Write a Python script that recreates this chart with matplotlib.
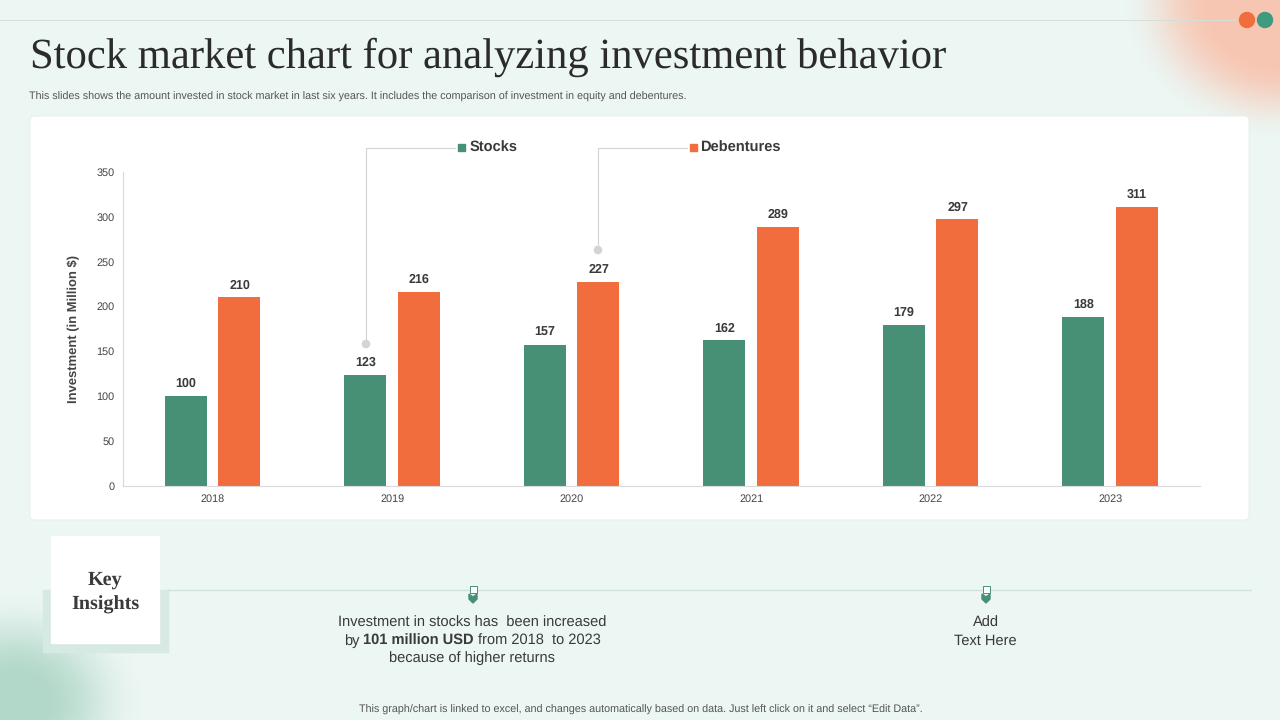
import numpy as np
import matplotlib.pyplot as plt
from matplotlib.patches import Rectangle, FancyBboxPatch, Circle, Polygon

plt.rcParams['font.family'] = ['Liberation Sans', 'DejaVu Sans']
plt.rcParams['text.hinting'] = 'none'

YEARS = ["2018", "2019", "2020", "2021", "2022", "2023"]
STOCKS = [100, 123, 157, 162, 179, 188]
DEBENTURES = [210, 216, 227, 289, 297, 311]
Y_TICKS = [0, 50, 100, 150, 200, 250, 300, 350]

GREEN = "#478f75"
ORANGE = "#f26d3d"
BG = "#ecf6f3"
DARK = "#3a3a3a"


def blob(cx, cy, rx, ry, rgb, edge=0.45):
    """Return an RGBA image of a soft round patch over the whole slide."""
    yy, xx = np.mgrid[0:720, 0:1280]
    d = np.sqrt(((xx - cx) / rx) ** 2 + ((yy - cy) / ry) ** 2)
    t = np.clip((1.0 - d) / edge, 0, 1)
    img = np.zeros((720, 1280, 4))
    img[..., :3] = rgb
    img[..., 3] = t * t * (3 - 2 * t)  # smooth edge
    return img


def draw_background():
    """Slide background, the cards and all the text around the chart."""
    ax = plt.axes([0, 0, 1, 1])
    plt.xlim(0, 1280)
    plt.ylim(720, 0)
    plt.axis("off")
    ax.add_patch(Rectangle((0, 0), 1280, 720, color=BG, zorder=0))

    # soft corners
    plt.imshow(blob(1285, 0, 165, 140, (0.97, 0.78, 0.70), edge=0.55), extent=(0, 1280, 720, 0), zorder=1, aspect="auto")
    plt.imshow(blob(15, 700, 130, 110, (0.70, 0.85, 0.79), edge=0.8), extent=(0, 1280, 720, 0), zorder=1, aspect="auto")
    plt.xlim(0, 1280)
    plt.ylim(720, 0)

    plt.plot([0, 1235], [20, 20], color="#d5dedb", lw=0.7, zorder=2)
    ax.add_patch(Circle((1247, 20), 7.5, color=ORANGE, zorder=3))
    ax.add_patch(Circle((1265, 20), 7.5, color="#3f9a80", zorder=3))

    plt.text(30, 57, "Stock market chart for analyzing investment behavior", family="Liberation Serif",
             fontsize=30.7, color="#2b2b2b", va="center", ha="left", zorder=4)
    plt.text(29, 96.5, "This slides shows the amount invested in stock market in last six years. It includes the comparison of investment in equity and debentures.",
             fontsize=7.74, color="#555555", va="center", ha="left", zorder=4)

    # chart card
    ax.add_patch(FancyBboxPatch((34, 120), 1211, 396, boxstyle="round,pad=4,rounding_size=5",
                                facecolor="white", edgecolor="#e6eeeb", lw=0.6, zorder=2))

    # key insights box
    ax.add_patch(Rectangle((43, 590), 125, 62, color="#d6e9e3", zorder=2))
    ax.add_patch(Rectangle((51, 536), 108, 107, color="white", zorder=3))
    plt.text(105, 580, "Key", family="Liberation Serif", fontweight="bold", fontsize=14.5, color=DARK,
             ha="center", va="center", zorder=4)
    plt.text(105, 605, "Insights", family="Liberation Serif", fontweight="bold", fontsize=14.5, color=DARK,
             ha="center", va="center", zorder=4)
    plt.plot([168, 1251], [590, 590], color="#cfe3dc", lw=1, zorder=2)

    # two little pins on the line
    for x in [473, 986]:
        ax.add_patch(Rectangle((x - 3.5, 586), 7, 7, facecolor="white", edgecolor=GREEN, lw=0.7, zorder=4))
        ax.add_patch(Polygon([(x - 4, 594), (x, 597), (x + 4, 594), (x + 4, 599), (x, 603), (x - 4, 599)],
                             color=GREEN, zorder=4))

    plt.text(472.5, 623, "Investment in stocks has  been increased", fontsize=10.5, color=DARK, ha="center", va="center", zorder=4)
    plt.text(344, 641, "by", fontsize=10.5, color=DARK, ha="left", va="center", zorder=4)
    plt.text(363, 641, "101 million USD", fontsize=10.5, fontweight="bold", color=DARK, ha="left", va="center", zorder=4)
    plt.text(478, 641, "from 2018  to 2023", fontsize=10.5, color=DARK, ha="left", va="center", zorder=4)
    plt.text(472, 658, "because of higher returns", fontsize=10.5, color=DARK, ha="center", va="center", zorder=4)
    plt.text(985.5, 623, "Add", fontsize=10.5, color=DARK, ha="center", va="center", zorder=4)
    plt.text(985.5, 641, "Text Here", fontsize=10.5, color=DARK, ha="center", va="center", zorder=4)
    plt.text(640.5, 710, "This graph/chart is linked to excel, and changes automatically based on data. Just left click on it and select \u201cEdit Data\u201d.",
             fontsize=7.74, color="#555555", ha="center", va="center", zorder=4)


def draw_chart():
    """Grouped bars with the value labels, axis and legend."""
    ax = plt.axes([123 / 1280, 1 - 485.5 / 720, (1200 - 123) / 1280, (485.5 - 172) / 720])
    ax.patch.set_alpha(0)
    x = np.arange(len(YEARS))
    plt.bar(x - 0.15, STOCKS, width=0.234, color=GREEN, label="Stocks")
    plt.bar(x + 0.149, DEBENTURES, width=0.234, color=ORANGE, label="Debentures")
    for i in range(len(YEARS)):
        plt.text(x[i] - 0.15, STOCKS[i] + 7, str(STOCKS[i]), fontsize=9, fontweight="bold", color=DARK, ha="center", va="bottom")
        plt.text(x[i] + 0.149, DEBENTURES[i] + 7, str(DEBENTURES[i]), fontsize=9, fontweight="bold", color=DARK, ha="center", va="bottom")
    plt.xlim(-0.5, 5.5)
    plt.ylim(0, 350)
    plt.xticks(x, YEARS, fontsize=7.8, color="#444444")
    plt.yticks(Y_TICKS, fontsize=7.8, color="#444444")
    plt.tick_params(axis="x", length=0, pad=6)
    plt.tick_params(axis="y", length=0, pad=6)
    plt.ylabel("Investment (in Million $)", fontsize=9.4, fontweight="bold", color="#444444", labelpad=12)
    for side in ["top", "right"]:
        ax.spines[side].set_visible(False)
    ax.spines["left"].set_color("#d9d9d9")
    ax.spines["bottom"].set_color("#d9d9d9")
    ax.spines["left"].set_linewidth(0.8)
    ax.spines["bottom"].set_linewidth(0.8)


def draw_legend():
    """The legend entries sit on leader lines, so they go on a slide-wide layer."""
    ax = plt.axes([0, 0, 1, 1])
    ax.patch.set_alpha(0)
    plt.xlim(0, 1280)
    plt.ylim(720, 0)
    plt.axis("off")
    plt.plot([366, 366, 455], [344, 147.5, 147.5], color="#d4d4d4", lw=0.8)
    plt.plot([598, 598, 687], [250, 147.5, 147.5], color="#d4d4d4", lw=0.8)
    ax.add_patch(Circle((366, 344), 3.6, color="#d4d4d4"))
    ax.add_patch(Circle((598, 250), 3.6, color="#d4d4d4"))
    ax.add_patch(Rectangle((458, 143.5), 7, 7, color=GREEN))
    ax.add_patch(Rectangle((690, 143.5), 7, 7, color=ORANGE))
    plt.text(470, 148, "Stocks", fontsize=10.5, fontweight="bold", color=DARK, va="center")
    plt.text(700.5, 148, "Debentures", fontsize=10.5, fontweight="bold", color=DARK, va="center")


if __name__ == "__main__":
    plt.figure(figsize=(12.8, 7.2), dpi=100)
    draw_background()
    draw_chart()
    draw_legend()
    plt.savefig("out.png", dpi=100)
